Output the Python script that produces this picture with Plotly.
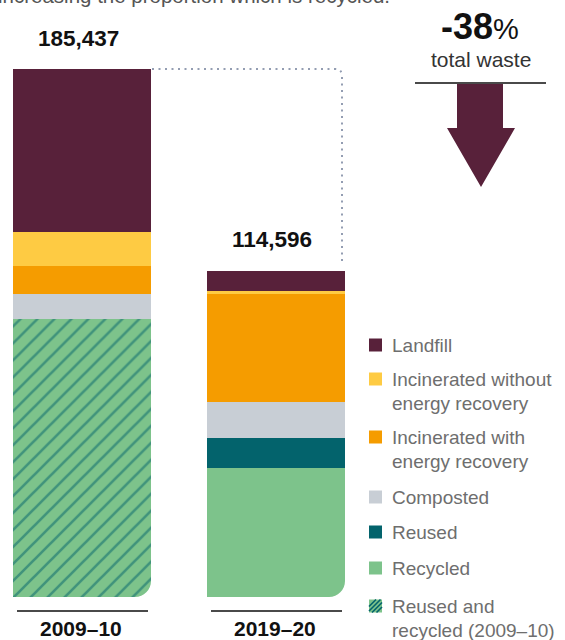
import plotly.graph_objects as go

# ---- data -----------------------------------------------------------------
periods = ["2009–10", "2019–20"]
totals = [185437, 114596]

landfill = [57250, 6984]
incinerated_no_recovery = [11940, 1270]
incinerated_recovery = [9830, 37775]
composted = [8780, 12697]
reused = [None, 10475]
recycled = [None, 45395]
reused_and_recycled = [97637, None]

change_label = "-38"
change_caption = "total waste"
intro_text = "increasing the proportion which is recycled."

# ---- styling --------------------------------------------------------------
MAROON = "#58213A"
YELLOW = "#FECB43"
ORANGE = "#F59C00"
GREY = "#C8CED5"
TEAL = "#03636C"
GREEN = "#7DC38B"
FONT = "Liberation Sans, Arial, sans-serif"

W, H = 565, 640
BASE_PX = 597          # pixel row of the bar baseline
TOP_PX = 69            # pixel row reached by the tallest bar
X0_PX, STEP_PX = 82, 194
BAR_W = 138 / STEP_PX

ups = totals[0] / (BASE_PX - TOP_PX)   # value units per pixel


def px_x(p):
    return (p - X0_PX) / STEP_PX


def px_y(p):
    return (BASE_PX - p) * ups


x = list(range(len(periods)))

# stacking order: bottom to top
series = [
    ("Reused and<br>recycled (2009–10)", reused_and_recycled, GREEN, True),
    ("Recycled", recycled, GREEN, False),
    ("Reused", reused, TEAL, False),
    ("Composted", composted, GREY, False),
    ("Incinerated with<br>energy recovery", incinerated_recovery, ORANGE, False),
    ("Incinerated without<br>energy recovery", incinerated_no_recovery, YELLOW, False),
    ("Landfill", landfill, MAROON, False),
]

fig = go.Figure()
for name, vals, col, hatched in series:
    marker = dict(color=col, line=dict(width=0))
    if hatched:
        marker["pattern"] = dict(shape="/", fgcolor=TEAL, bgcolor=GREEN,
                                 size=12, solidity=0.22)
    fig.add_trace(go.Bar(x=x, y=vals, name=name.replace("<br>", " "),
                         width=BAR_W, marker=marker, showlegend=False,
                         hoverinfo="skip"))

shapes = []
annotations = []

# rounded bottom-right corner on each bar (white cut-out)
rx, ry = 16 / STEP_PX, 16 * ups
k = 0.552
for xi in x:
    xr = xi + BAR_W / 2
    ex = 2 / STEP_PX
    path = (f"M {xr + ex},{-2 * ups} L {xr + ex},{ry} L {xr},{ry} "
            f"C {xr},{ry * (1 - k)} {xr - rx * (1 - k)},0 {xr - rx},0 "
            f"L {xr - rx},{-2 * ups} Z")
    shapes.append(dict(type="path", path=path, xref="x", yref="y",
                       fillcolor="white", line=dict(width=0), layer="above"))

# underline and label for each period
for xi, lab in zip(x, periods):
    shapes.append(dict(type="line", xref="x", yref="y",
                       x0=xi - BAR_W / 2 + 4 / STEP_PX, x1=xi + BAR_W / 2 - 3 / STEP_PX,
                       y0=px_y(611), y1=px_y(611),
                       line=dict(color="#4A4A4A", width=2)))
    annotations.append(dict(x=xi - 1 / STEP_PX, y=px_y(628), xref="x", yref="y",
                            text=f"<b>{lab}</b>", showarrow=False,
                            font=dict(family=FONT, size=21, color="#111"),
                            xanchor="center", yanchor="middle"))

# totals above each bar
for xi, tot in zip(x, totals):
    annotations.append(dict(x=xi - 4 / STEP_PX, y=tot, xref="x", yref="y",
                            text=f"<b>{tot:,}</b>", showarrow=False,
                            font=dict(family=FONT, size=22.5, color="#111"),
                            xanchor="center", yanchor="middle", yshift=31))

# dotted connector from the first total down to the second
cx = px_x(342)
r2x, r2y = 7 / STEP_PX, 7 * ups
conn = (f"M {BAR_W / 2 + 1 / STEP_PX},{totals[0]} L {cx - r2x},{totals[0]} "
        f"Q {cx},{totals[0]} {cx},{totals[0] - r2y} "
        f"L {cx},{totals[1] + 7 * ups}")
shapes.append(dict(type="path", path=conn, xref="x", yref="y",
                   line=dict(color="#939DB2", width=2, dash="2px,4.5px")))

# change indicator: figure, caption, rule and arrow
annotations.append(dict(x=px_x(480), y=px_y(26), xref="x", yref="y",
                        text=f"<b>{change_label}</b><span style='font-size:29px'>%</span>",
                        showarrow=False, font=dict(family=FONT, size=36, color="#111"),
                        xanchor="center", yanchor="middle"))
annotations.append(dict(x=px_x(481), y=px_y(59), xref="x", yref="y",
                        text=change_caption, showarrow=False,
                        font=dict(family=FONT, size=21, color="#333"),
                        xanchor="center", yanchor="middle"))
shapes.append(dict(type="line", xref="x", yref="y", x0=px_x(415), x1=px_x(546),
                   y0=px_y(83), y1=px_y(83), line=dict(color="#4A4A4A", width=2)))
arrow_pts = [(457, 84), (503, 84), (503, 128), (515, 128), (481, 187),
             (447, 128), (457, 128)]
arrow_path = "M " + " L ".join(f"{px_x(a)},{px_y(b)}" for a, b in arrow_pts) + " Z"
shapes.append(dict(type="path", path=arrow_path, xref="x", yref="y",
                   fillcolor=MAROON, line=dict(width=0)))

# intro sentence running off the top edge
annotations.append(dict(x=-4 / W, y=1 + 4 / H, xref="paper", yref="paper",
                        text=intro_text, showarrow=False,
                        font=dict(family=FONT, size=20.5, color="#555"),
                        xanchor="left", yanchor="middle"))

# legend
legend_items = [
    ("Landfill", MAROON, False, 345),
    ("Incinerated without<br>energy recovery", YELLOW, False, 379),
    ("Incinerated with<br>energy recovery", ORANGE, False, 437),
    ("Composted", GREY, False, 497),
    ("Reused", TEAL, False, 532),
    ("Recycled", GREEN, False, 568),
    ("Reused and<br>recycled (2009–10)", GREEN, True, 606),
]
SQ = 13
for label, col, hatched, cy in legend_items:
    x0p, y0p = 369, cy - SQ / 2
    shapes.append(dict(type="rect", xref="x", yref="y",
                       x0=px_x(x0p), x1=px_x(x0p + SQ),
                       y0=px_y(y0p + SQ), y1=px_y(y0p),
                       fillcolor=col, line=dict(width=0)))
    if hatched:
        for off in (-6, -1.5, 3, 7.5):
            # diagonal stripes clipped to the square
            a0 = max(0, off)
            a1 = min(SQ, SQ + off)
            xa, xb = x0p + a0, x0p + a1
            ya, yb = y0p + SQ - (a0 - off), y0p + SQ - (a1 - off)
            shapes.append(dict(type="line", xref="x", yref="y",
                               x0=px_x(xa), x1=px_x(xb), y0=px_y(ya), y1=px_y(yb),
                               line=dict(color=TEAL, width=1.6)))
    for i, line in enumerate(label.split("<br>")):
        annotations.append(dict(x=px_x(390), y=px_y(cy + i * 24), xref="x", yref="y",
                                text=line, showarrow=False,
                                font=dict(family=FONT, size=19, color="#6E6E6E"),
                                xanchor="left", yanchor="middle"))

fig.update_layout(
    width=W, height=H, autosize=False,
    margin=dict(l=0, r=0, t=0, b=0, pad=0),
    paper_bgcolor="white", plot_bgcolor="white",
    barmode="stack", bargap=0,
    xaxis=dict(range=[px_x(0), px_x(W)], visible=False, fixedrange=True),
    yaxis=dict(range=[px_y(H), px_y(0)], visible=False, fixedrange=True),
    shapes=shapes, annotations=annotations,
    font=dict(family=FONT),
)

fig.write_html("out.html")
